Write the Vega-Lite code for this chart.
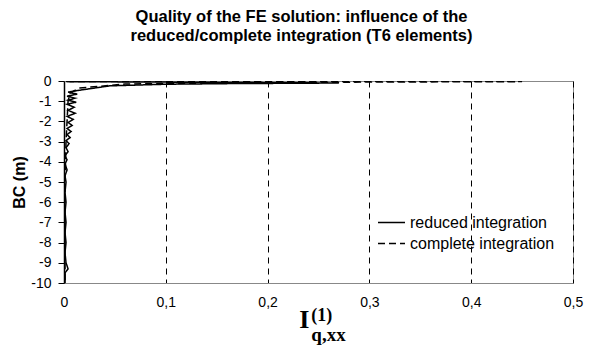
{
  "$schema": "https://vega.github.io/schema/vega-lite/v6.json",
  "width": 509,
  "height": 202,
  "autosize": "none",
  "padding": {"left": 64, "top": 81, "right": 16, "bottom": 63},
  "background": "white",
  "view": {"stroke": "#888888", "strokeWidth": 1},
  "config": {"font": "Liberation Sans"},
  "title": {
    "text": ["Quality of the FE solution: influence of the", "reduced/complete integration (T6 elements)"],
    "font": "Liberation Sans",
    "fontSize": 16.5,
    "fontWeight": "bold",
    "color": "#000000",
    "anchor": "middle",
    "frame": "group",
    "dx": -17,
    "offset": 30,
    "lineHeight": 19
  },
  "datasets": {
    "curves": [
      {"series": "reduced integration", "i": 0, "v": 0.002, "d": -0.03},
      {"series": "reduced integration", "i": 1, "v": 0.27, "d": -0.1},
      {"series": "reduced integration", "i": 2, "v": 0.16, "d": -0.13},
      {"series": "reduced integration", "i": 3, "v": 0.1, "d": -0.16},
      {"series": "reduced integration", "i": 4, "v": 0.045, "d": -0.24},
      {"series": "reduced integration", "i": 5, "v": 0.012, "d": -0.48},
      {"series": "reduced integration", "i": 6, "v": 0.004, "d": -0.55},
      {"series": "reduced integration", "i": 7, "v": 0.013, "d": -0.65},
      {"series": "reduced integration", "i": 8, "v": 0.003, "d": -0.75},
      {"series": "reduced integration", "i": 9, "v": 0.011, "d": -0.85},
      {"series": "reduced integration", "i": 10, "v": 0.004, "d": -0.95},
      {"series": "reduced integration", "i": 11, "v": 0.012, "d": -1.05},
      {"series": "reduced integration", "i": 12, "v": 0.003, "d": -1.15},
      {"series": "reduced integration", "i": 13, "v": 0.010, "d": -1.3},
      {"series": "reduced integration", "i": 14, "v": 0.004, "d": -1.45},
      {"series": "reduced integration", "i": 15, "v": 0.011, "d": -1.6},
      {"series": "reduced integration", "i": 16, "v": 0.003, "d": -1.75},
      {"series": "reduced integration", "i": 17, "v": 0.009, "d": -1.9},
      {"series": "reduced integration", "i": 18, "v": 0.004, "d": -2.05},
      {"series": "reduced integration", "i": 19, "v": 0.008, "d": -2.2},
      {"series": "reduced integration", "i": 20, "v": 0.003, "d": -2.35},
      {"series": "reduced integration", "i": 21, "v": 0.007, "d": -2.5},
      {"series": "reduced integration", "i": 22, "v": 0.003, "d": -2.65},
      {"series": "reduced integration", "i": 23, "v": 0.006, "d": -2.8},
      {"series": "reduced integration", "i": 24, "v": 0.002, "d": -2.95},
      {"series": "reduced integration", "i": 25, "v": 0.005, "d": -3.1},
      {"series": "reduced integration", "i": 26, "v": 0.002, "d": -3.3},
      {"series": "reduced integration", "i": 27, "v": 0.004, "d": -3.5},
      {"series": "reduced integration", "i": 28, "v": 0.001, "d": -3.7},
      {"series": "reduced integration", "i": 29, "v": 0.003, "d": -3.9},
      {"series": "reduced integration", "i": 30, "v": 0.001, "d": -4.1},
      {"series": "reduced integration", "i": 31, "v": 0.003, "d": -4.4},
      {"series": "reduced integration", "i": 32, "v": 0.001, "d": -4.7},
      {"series": "reduced integration", "i": 33, "v": 0.002, "d": -5.0},
      {"series": "reduced integration", "i": 34, "v": 0.001, "d": -5.5},
      {"series": "reduced integration", "i": 35, "v": 0.002, "d": -6.0},
      {"series": "reduced integration", "i": 36, "v": 0.001, "d": -6.5},
      {"series": "reduced integration", "i": 37, "v": 0.002, "d": -7.0},
      {"series": "reduced integration", "i": 38, "v": 0.001, "d": -7.5},
      {"series": "reduced integration", "i": 39, "v": 0.002, "d": -8.0},
      {"series": "reduced integration", "i": 40, "v": 0.001, "d": -8.5},
      {"series": "reduced integration", "i": 41, "v": 0.002, "d": -9.0},
      {"series": "reduced integration", "i": 42, "v": 0.004, "d": -9.3},
      {"series": "reduced integration", "i": 43, "v": 0.001, "d": -9.5},
      {"series": "reduced integration", "i": 44, "v": 0.001, "d": -10},
      {"series": "complete integration", "i": 0, "v": 0.003, "d": -0.02},
      {"series": "complete integration", "i": 1, "v": 0.45, "d": -0.03},
      {"series": "complete integration", "i": 2, "v": 0.2, "d": -0.07},
      {"series": "complete integration", "i": 3, "v": 0.06, "d": -0.15},
      {"series": "complete integration", "i": 4, "v": 0.015, "d": -0.35},
      {"series": "complete integration", "i": 5, "v": 0.006, "d": -0.6},
      {"series": "complete integration", "i": 6, "v": 0.004, "d": -1},
      {"series": "complete integration", "i": 7, "v": 0.003, "d": -2},
      {"series": "complete integration", "i": 8, "v": 0.002, "d": -3},
      {"series": "complete integration", "i": 9, "v": 0.001, "d": -5},
      {"series": "complete integration", "i": 10, "v": 0.001, "d": -7},
      {"series": "complete integration", "i": 11, "v": 0.001, "d": -10}
    ]
  },
  "layer": [
    {
      "data": {"name": "curves"},
      "mark": {"type": "line", "color": "#000000", "strokeWidth": 1.5, "clip": true},
      "encoding": {
        "x": {
          "field": "v", "type": "quantitative",
          "scale": {"domain": [0, 0.5], "nice": false, "zero": false},
          "axis": {
            "title": null,
            "values": [0, 0.1, 0.2, 0.3, 0.4, 0.5],
            "tickCount": 6,
            "labelExpr": "datum.value == 0 ? '0' : replace(format(datum.value, '.1f'), '.', ',')",
            "labelFont": "Liberation Sans",
            "labelFontSize": 14,
            "labelColor": "#000000",
            "labelPadding": 12,
            "labelFlush": false,
            "labelOverlap": false,
            "ticks": false,
            "domainColor": "#888888",
            "domainWidth": 1,
            "grid": true,
            "gridColor": "#000000",
            "gridWidth": 1,
            "gridDash": [6, 5],
            "gridOpacity": {"condition": {"test": "datum.value == 0", "value": 0}, "value": 1}
          }
        },
        "y": {
          "field": "d", "type": "quantitative",
          "scale": {"domain": [-10, 0], "nice": false, "zero": false},
          "axis": {
            "title": "BC (m)",
            "titleFont": "Liberation Sans",
            "titleFontSize": 16,
            "titleFontWeight": "bold",
            "titleColor": "#000000",
            "titlePadding": 3,
            "values": [0, -1, -2, -3, -4, -5, -6, -7, -8, -9, -10],
            "tickCount": 11,
            "labelExpr": "'' + datum.value",
            "labelFont": "Liberation Sans",
            "labelFontSize": 14,
            "labelColor": "#000000",
            "labelPadding": 7,
            "labelOverlap": false,
            "labelFlush": false,
            "tickSize": 6,
            "tickColor": "#000000",
            "tickWidth": 1,
            "domainColor": "#000000",
            "domainWidth": 1.5,
            "grid": false
          }
        },
        "order": {"field": "i", "type": "quantitative"},
        "strokeDash": {
          "field": "series", "type": "nominal",
          "scale": {"domain": ["reduced integration", "complete integration"], "range": [[1, 0], [7, 4]]},
          "legend": {
            "title": null,
            "orient": "none",
            "legendX": 313,
            "legendY": 132,
            "symbolType": "stroke",
            "symbolSize": 729,
            "symbolStrokeWidth": 1.5,
            "symbolStrokeColor": "#000000",
            "labelFont": "Liberation Sans",
            "labelFontSize": 16,
            "labelColor": "#000000",
            "labelOffset": 4,
            "clipHeight": 19,
            "rowPadding": 2,
            "padding": 0
          }
        }
      }
    },
    {
      "data": {"values": [{}]},
      "mark": {"type": "text", "font": "Liberation Serif", "fontWeight": "bold", "fontSize": 26, "align": "center", "baseline": "alphabetic", "color": "#000000"},
      "encoding": {
        "x": {"datum": 0.236, "type": "quantitative"},
        "y": {"datum": -12.23, "type": "quantitative"},
        "text": {"value": "I"}
      }
    },
    {
      "data": {"values": [{}]},
      "mark": {"type": "text", "font": "Liberation Serif", "fontWeight": "bold", "fontSize": 18, "align": "left", "baseline": "alphabetic", "color": "#000000"},
      "encoding": {
        "x": {"datum": 0.243, "type": "quantitative"},
        "y": {"datum": -11.9, "type": "quantitative"},
        "text": {"value": "(1)"}
      }
    },
    {
      "data": {"values": [{}]},
      "mark": {"type": "text", "font": "Liberation Serif", "fontWeight": "bold", "fontSize": 19, "align": "left", "baseline": "alphabetic", "color": "#000000"},
      "encoding": {
        "x": {"datum": 0.243, "type": "quantitative"},
        "y": {"datum": -12.85, "type": "quantitative"},
        "text": {"value": "q,xx"}
      }
    }
  ]
}
